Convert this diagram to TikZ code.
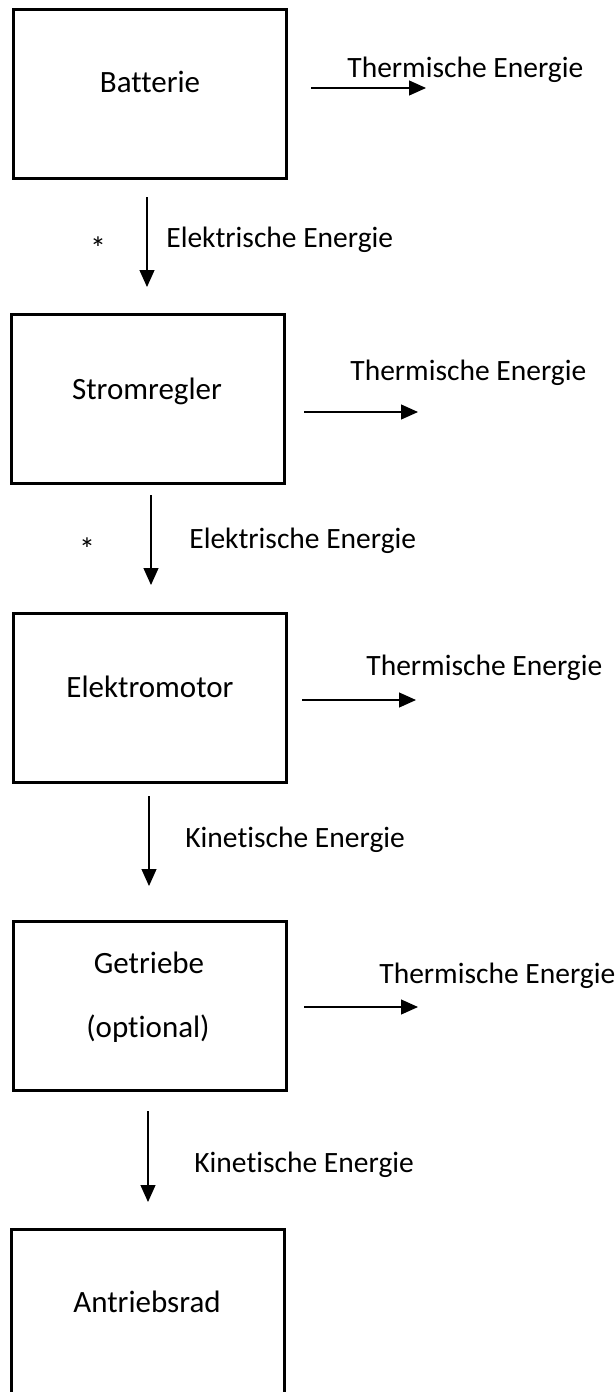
\documentclass[tikz,border=0pt]{standalone}
\usepackage{fontspec}
\setmainfont{Carlito}[Ligatures={NoCommon}]
\usetikzlibrary{arrows.meta}
\begin{document}
\begin{tikzpicture}[x=0.5pt,y=-0.5pt,
  box/.style={draw=black, line width=1.5pt, minimum width=136.5pt, minimum height=84.5pt, inner sep=0pt},
  boxtext/.style={anchor=base, inner sep=0pt, font=\fontsize{15.5}{18}\selectfont},
  lbl/.style={anchor=base west, inner sep=0pt, font=\fontsize{14.75}{18}\selectfont},
  star/.style={anchor=base, inner sep=0pt, font=\fontsize{16}{18}\selectfont},
  flow/.style={line width=0.6pt, -{Triangle[length=8.5pt,width=7.5pt]}}
]
\useasboundingbox (0,0) rectangle (615,1392);
\clip (0,0) rectangle (615,1392);

% boxes
\node[box] (b1) at (149.5,93.5) {};
\node[box] (b2) at (147.5,399) {};
\node[box] (b3) at (150,697.5) {};
\node[box] (b4) at (150,1005.5) {};
\node[box] (b5) at (147.5,1313.5) {};

% box texts
\node[boxtext] (t1) at (150,92) {Batterie};
\node[boxtext] (t2) at (147,399) {Stromregler};
\node[boxtext] (t3) at (150,697) {Elektromotor};
\node[boxtext] (t4a) at (149,973) {Getriebe};
\node[boxtext] (t4b) at (148,1037) {(optional)};
\node[boxtext] (t5) at (147,1312) {Antriebsrad};

% thermal outputs
\coordinate (h1s) at (311,88);  \coordinate (h1e) at (426,88);
\coordinate (h2s) at (304,412); \coordinate (h2e) at (418,412);
\coordinate (h3s) at (302,700); \coordinate (h3e) at (416,700);
\coordinate (h4s) at (304,1007); \coordinate (h4e) at (418,1007);
\draw[flow] (h1s) -- (h1e);
\draw[flow] (h2s) -- (h2e);
\draw[flow] (h3s) -- (h3e);
\draw[flow] (h4s) -- (h4e);
\node[lbl] (l1) at (347,77) {Thermische Energie};
\node[lbl] (l2) at (350,380) {Thermische Energie};
\node[lbl] (l3) at (366,675) {Thermische Energie};
\node[lbl] (l4) at (379,983) {Thermische Energie};

% vertical flows
\coordinate (d1s) at (147,197);  \coordinate (d1e) at (147,287);
\coordinate (d2s) at (151,495);  \coordinate (d2e) at (151,585);
\coordinate (d3s) at (149,796);  \coordinate (d3e) at (149,886);
\coordinate (d4s) at (148,1111); \coordinate (d4e) at (148,1202);
\draw[flow] (d1s) -- (d1e);
\draw[flow] (d2s) -- (d2e);
\draw[flow] (d3s) -- (d3e);
\draw[flow] (d4s) -- (d4e);
\node[lbl] (e1) at (166,247) {Elektrische Energie};
\node[lbl] (e2) at (189,548) {Elektrische Energie};
\node[lbl] (k1) at (185,847) {Kinetische Energie};
\node[lbl] (k2) at (194,1172) {Kinetische Energie};

% asterisks
\node[star] (s1) at (98,259) {*};
\node[star] (s2) at (87,560) {*};
\end{tikzpicture}
\end{document}
